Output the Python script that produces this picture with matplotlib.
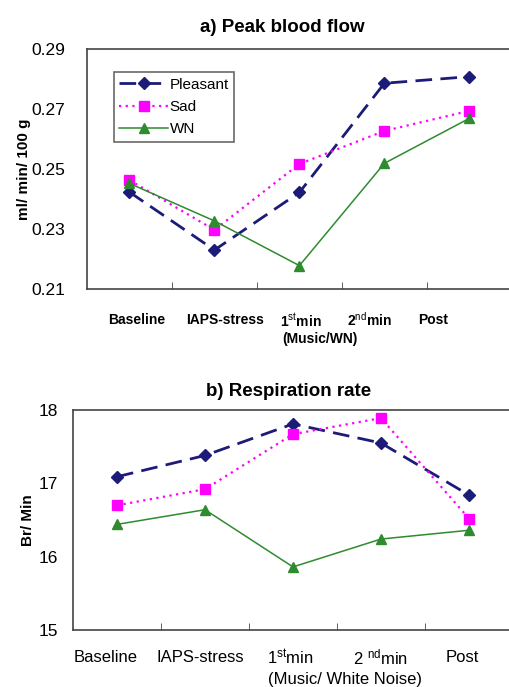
import matplotlib
matplotlib.use("Agg")
import matplotlib.pyplot as plt
from matplotlib.ticker import FixedLocator, NullLocator

plt.rcParams['font.family'] = ['Liberation Sans', 'DejaVu Sans']
plt.rcParams['mathtext.fontset'] = 'custom'
plt.rcParams['mathtext.rm'] = 'Liberation Sans'
plt.rcParams['mathtext.it'] = 'Liberation Sans'
plt.rcParams['mathtext.bf'] = 'Liberation Sans:bold'

# data
phases = ["Baseline", "IAPS-stress", "1st min", "2nd min", "Post"]
series = ["Pleasant", "Sad", "WN"]

flow_pleasant = [0.2423, 0.2230, 0.2422, 0.2786, 0.2808]
flow_sad = [0.2463, 0.2297, 0.2517, 0.2627, 0.2694]
flow_wn = [0.2452, 0.2327, 0.2178, 0.2519, 0.2669]

resp_pleasant = [17.09, 17.38, 17.81, 17.55, 16.84]
resp_sad = [16.70, 16.92, 17.67, 17.89, 16.52]
resp_wn = [16.44, 16.64, 15.86, 16.24, 16.36]

top_labels = ["Baseline", "IAPS-stress", r"1$^{st}$min", r"2$^{nd}$min", "Post"]
bot_labels = ["Baseline", "IAPS-stress", r"1$^{st}$min", r"2 $^{nd}$min", "Post"]

styles = {
    "Pleasant": dict(color="#1c1c78", ls=(0, (6, 3)), lw=2.0, marker="D", ms=6),
    "Sad": dict(color="#ff00ff", ls=(0, (1, 2)), lw=1.6, marker="s", ms=7),
    "WN": dict(color="#2e8b2e", ls="-", lw=1.1, marker="^", ms=7),
}

fig = plt.figure(figsize=(5.1, 6.87), dpi=100)
ax1 = fig.add_axes([0.1706, 0.5793, 0.833, 0.3493])
ax2 = fig.add_axes([0.1431, 0.0830, 0.8627, 0.3202])

x = list(range(len(phases)))


def style_axis(ax, pad):
    ax.set_xlim(-0.5, 4.5)
    ax.xaxis.set_major_locator(NullLocator())
    ax.xaxis.set_minor_locator(FixedLocator([0.5, 1.5, 2.5, 3.5]))
    ax.tick_params(axis='x', which='minor', direction='in', length=5, color='#444444')
    ax.tick_params(axis='y', length=0, pad=pad, labelsize=12.5)
    for s in ax.spines.values():
        s.set_color('#444444')
        s.set_linewidth(1.2)


# a) Peak blood flow
for name, vals in zip(series, [flow_pleasant, flow_sad, flow_wn]):
    st = styles[name]
    ax1.plot(x, vals, color=st["color"], linestyle=st["ls"], linewidth=st["lw"],
             marker=st["marker"], markersize=st["ms"], label=name)
style_axis(ax1, 16)
ax1.set_ylim(0.21, 0.29)
ax1.set_yticks([0.21, 0.23, 0.25, 0.27, 0.29])
ax1.set_yticklabels(["0.21", "0.23", "0.25", "0.27", "0.29"])
ax1.set_ylabel("ml/ min/ 100 g", fontsize=11, fontweight='bold', labelpad=0)
ax1.set_title("a) Peak blood flow", fontsize=13.5, fontweight='bold', pad=12, x=0.459)
leg = ax1.legend(loc='upper left', bbox_to_anchor=(0.045, 0.935), fontsize=11,
                 frameon=True, fancybox=False, handlelength=3.2, handletextpad=0.1,
                 labelspacing=0.55, borderpad=0.35)
leg.get_frame().set_edgecolor('#444444')
leg.get_frame().set_linewidth(1.2)

top_pos = [0.09, 1.12, 2.02, 2.82, 3.57]
for px, lab in zip(top_pos, top_labels):
    ax1.text(px, -0.13, lab, transform=ax1.get_xaxis_transform(), ha='center', va='center',
             fontsize=10, fontweight='bold')
ax1.text(2.24, -0.21, "(Music/WN)", transform=ax1.get_xaxis_transform(), ha='center',
         va='center', fontsize=10, fontweight='bold')

# b) Respiration rate
for name, vals in zip(series, [resp_pleasant, resp_sad, resp_wn]):
    st = styles[name]
    ax2.plot(x, vals, color=st["color"], linestyle=st["ls"], linewidth=st["lw"],
             marker=st["marker"], markersize=st["ms"], label=name)
style_axis(ax2, 11)
ax2.set_ylim(15, 18)
ax2.set_yticks([15, 16, 17, 18])
ax2.set_ylabel("Br/ Min", fontsize=11, fontweight='bold', labelpad=2)
ax2.set_title("b) Respiration rate", fontsize=13.5, fontweight='bold', pad=10, x=0.49)

bot_pos = [-0.125, 0.95, 1.97, 2.99, 3.92]
for px, lab in zip(bot_pos, bot_labels):
    ax2.text(px, -0.125, lab, transform=ax2.get_xaxis_transform(), ha='center', va='center',
             fontsize=12)
ax2.text(2.59, -0.225, "(Music/ White Noise)", transform=ax2.get_xaxis_transform(),
         ha='center', va='center', fontsize=12)

fig.savefig("out.png", dpi=100)
